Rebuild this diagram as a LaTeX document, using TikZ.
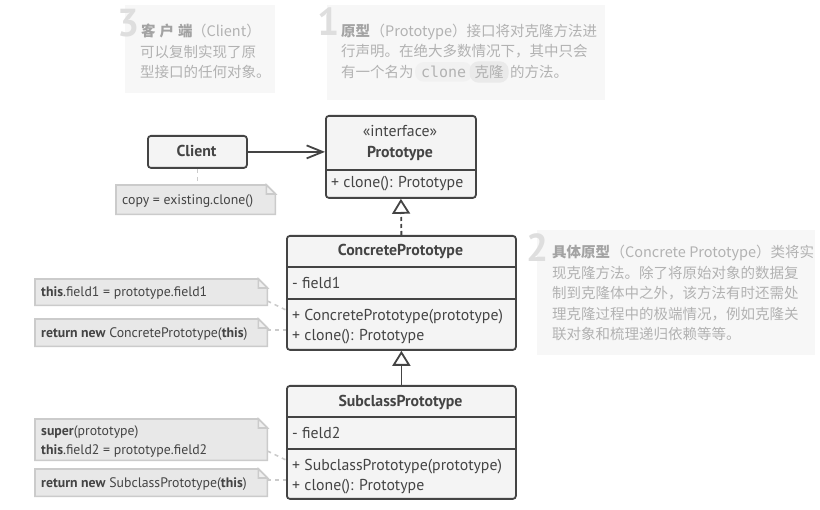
\documentclass[tikz,border=0pt]{standalone}
\usepackage{fontspec}
\setmainfont{PT Sans}
\newfontfamily\cjkfont{Noto Sans CJK SC}
\newfontfamily\monofont{DejaVu Sans Mono}
\usetikzlibrary{arrows.meta,backgrounds}
\definecolor{linecol}{HTML}{444444}
\definecolor{boxfill}{HTML}{F4F4F4}
\definecolor{notefill}{HTML}{E8E8E8}
\definecolor{noteline}{HTML}{CBCBCB}
\definecolor{notefold}{HTML}{F0F0F0}
\definecolor{panelfill}{HTML}{F7F7F7}
\definecolor{paneltext}{HTML}{B2B2B2}
\definecolor{panelbold}{HTML}{A3A3A3}
\definecolor{numcol}{HTML}{DEDEDE}
\definecolor{pillA}{HTML}{F1F1F1}
\definecolor{pillB}{HTML}{EAEAEA}
\newcommand\drawnote[1]{%
  \draw[noteshape] (#1.north west) -- ([xshift=-9pt]#1.north east) -- ([yshift=-9pt]#1.north east) -- (#1.south east) -- (#1.south west) -- cycle;
  \draw[noteshape, fill=notefold] ([xshift=-9pt]#1.north east) -- ([xshift=-9pt,yshift=-9pt]#1.north east) -- ([yshift=-9pt]#1.north east) -- cycle;}
\tikzset{
  classbox/.style={draw=linecol, fill=boxfill, line width=1.8pt, rounded corners=3pt, inner sep=0pt, anchor=north west},
  divider/.style={draw=linecol, line width=1.8pt},
  ctext/.style={inner sep=0pt, text=linecol, font=\fontsize{15.8}{18}\selectfont},
  ttext/.style={inner sep=0pt, text=linecol, font=\fontsize{15.8}{18}\selectfont\bfseries, anchor=base},
  mtext/.style={ctext, anchor=base west},
  ntext/.style={inner sep=0pt, text=linecol, font=\fontsize{13.8}{16}\selectfont, anchor=base west},
  notebox/.style={inner sep=0pt, anchor=north west},
  noteshape/.style={draw=noteline, fill=notefill, line width=1.6pt, line join=miter},
  notelink/.style={draw=noteline, line width=1.6pt, dash pattern=on 4pt off 4pt},
  assoc/.style={draw=linecol, line width=1.8pt, -{Straight Barb[length=16pt,width=13pt,line width=1.8pt]}},
  realize/.style={draw=linecol, line width=1.8pt, dash pattern=on 4pt off 3pt, -{Triangle[open,length=15pt,width=18pt,fill=white,line width=1.8pt]}},
  inherit/.style={draw=linecol, line width=1.8pt, -{Triangle[open,length=15pt,width=18pt,fill=white,line width=1.8pt]}},
  ptext/.style={inner sep=0pt, text=paneltext, font=\cjkfont\fontsize{14.5}{17}\selectfont, anchor=base west},
  pbold/.style={inner sep=0pt, text=panelbold, font=\cjkfont\fontsize{14.5}{17}\selectfont\bfseries, anchor=base west},
  pnum/.style={inner sep=0pt, text=numcol, font=\fontsize{39}{41}\selectfont\bfseries, anchor=base west},
  pill/.style={inner xsep=4pt, inner ysep=4pt, rounded corners=9pt, anchor=base west, text=paneltext},
}
\begin{document}
\begin{tikzpicture}[x=1pt,y=-1pt]
\useasboundingbox (0,0) rectangle (820,510);
% ---------- explanation panels ----------
\fill[panelfill] (125,5) rectangle (275,93);
\fill[panelfill] (327,5) rectangle (605,100);
\fill[panelfill] (537,230) rectangle (815,355);
\node[pnum] (num3) at (117,37) {3};
\node[pnum] (num1) at (317,36) {1};
\node[pnum] (num2) at (526,262) {2};
% panel 3
\node[pbold] (p3a) at (141,37) {客\hspace{4pt}户\hspace{4pt}端};
\node[ptext] (p3b) at ([xshift=-1pt]p3a.base east) {（Client）};
\node[ptext] (p3c) at (140,57.5) {可以复制实现了原};
\node[ptext] (p3d) at (140,78) {型接口的任何对象。};
% panel 1
\node[pbold] (p1a) at (341,36.5) {原型};
\node[ptext] (p1b) at (p1a.base east) {（Prototype）接口将对克隆方法进};
\node[ptext] (p1c) at (341,57) {行声明。在绝大多数情况下，其中只会};
\node[ptext] (p1d) at (341,77.5) {有一个名为};
\node[pill, fill=pillA, font=\monofont\fontsize{15}{17}\selectfont, inner xsep=6pt] (p1e) at ([xshift=1pt]p1d.base east) {clone};
\node[pill, fill=pillB, font=\cjkfont\fontsize{14.5}{17}\selectfont, inner xsep=5pt] (p1f) at ([xshift=-3pt]p1e.base east) {克隆};
\node[ptext] (p1g) at ([xshift=1pt]p1f.base east) {的方法。};
% panel 2
\node[pbold] (p2a) at (552,258) {具体原型};
\node[ptext] (p2b) at (p2a.base east) {（Concrete Prototype）类将实};
\node[ptext] (p2c) at (552,278.5) {现克隆方法。除了将原始对象的数据复};
\node[ptext] (p2d) at (552,299) {制到克隆体中之外，该方法有时还需处};
\node[ptext] (p2e) at (552,319.5) {理克隆过程中的极端情况，例如克隆关};
\node[ptext] (p2f) at (552,340) {联对象和梳理递归依赖等等。};
% ---------- class boxes ----------
\node[classbox, minimum width=99pt, minimum height=32pt] (client) at (147,135) {};
\node[ttext] (clientname) at (196.5,156.5) {Client};
\node[classbox, minimum width=150pt, minimum height=82pt] (proto) at (325,115) {};
\draw[divider] (proto.west |- 0,170) -- (proto.east |- 0,170);
\node[ctext, anchor=base] (protost) at (400,136.5) {«interface»};
\node[ttext] (protoname) at (400,157.5) {Prototype};
\node[mtext] (protom1) at (331,187.5) {+ clone(): Prototype};
\node[classbox, minimum width=229pt, minimum height=114pt] (concrete) at (286,235) {};
\draw[divider] (concrete.west |- 0,267) -- (concrete.east |- 0,267);
\draw[divider] (concrete.west |- 0,299) -- (concrete.east |- 0,299);
\node[ttext] (concname) at (400.5,255.5) {ConcretePrototype};
\node[mtext] (concf1) at (292,288.5) {- field1};
\node[mtext] (concm1) at (292,320.5) {+ ConcretePrototype(prototype)};
\node[mtext] (concm2) at (292,340.5) {+ clone(): Prototype};
\node[classbox, minimum width=229pt, minimum height=113pt] (sub) at (286,385) {};
\draw[divider] (sub.west |- 0,417) -- (sub.east |- 0,417);
\draw[divider] (sub.west |- 0,449) -- (sub.east |- 0,449);
\node[ttext] (subname) at (400.5,406.5) {SubclassPrototype};
\node[mtext] (subf1) at (292,438.5) {- field2};
\node[mtext] (subm1) at (292,470.5) {+ SubclassPrototype(prototype)};
\node[mtext] (subm2) at (292,490.5) {+ clone(): Prototype};
% ---------- notes ----------
\node[notebox, minimum width=159pt, minimum height=29pt] (n0) at (116,185) {};
\node[notebox, minimum width=232pt, minimum height=26pt] (n1) at (35,279) {};
\node[notebox, minimum width=232pt, minimum height=27pt] (n2) at (35,319) {};
\node[notebox, minimum width=232pt, minimum height=41pt] (n3) at (35,419) {};
\node[notebox, minimum width=232pt, minimum height=27pt] (n4) at (35,469) {};
\begin{scope}[on background layer]
\drawnote{n0}\drawnote{n1}\drawnote{n2}\drawnote{n3}\drawnote{n4}
\end{scope}
\node[ntext] (t0) at (122,204.5) {copy = existing.clone()};
\node[ntext] (t1) at (41,297) {\textbf{this}.field1 = prototype.field1};
\node[ntext] (t2) at (41,337.5) {\textbf{return new} ConcretePrototype(\textbf{this})};
\node[ntext] (t3a) at (41,436) {\textbf{super}(prototype)};
\node[ntext] (t3b) at (41,454.5) {\textbf{this}.field2 = prototype.field2};
\node[ntext] (t4) at (41,488) {\textbf{return new} SubclassPrototype(\textbf{this})};
% ---------- connectors ----------
\draw[assoc] (client.east) -- (client.east -| proto.west);
\draw[realize] (concrete.north) -- (proto.south);
\draw[inherit] (sub.north) -- (concrete.south);
\draw[notelink] (client.south) -- (client.south |- n0.north);
\draw[notelink] (n1.east |- 0,301) -- (concrete.west |- 0,310);
\draw[notelink] (n2.east |- 0,330) -- (concrete.west |- 0,330);
\draw[notelink] (n3.east |- 0,451) -- (sub.west |- 0,460);
\draw[notelink] (n4.east |- 0,480) -- (sub.west |- 0,480);
\end{tikzpicture}
\end{document}
